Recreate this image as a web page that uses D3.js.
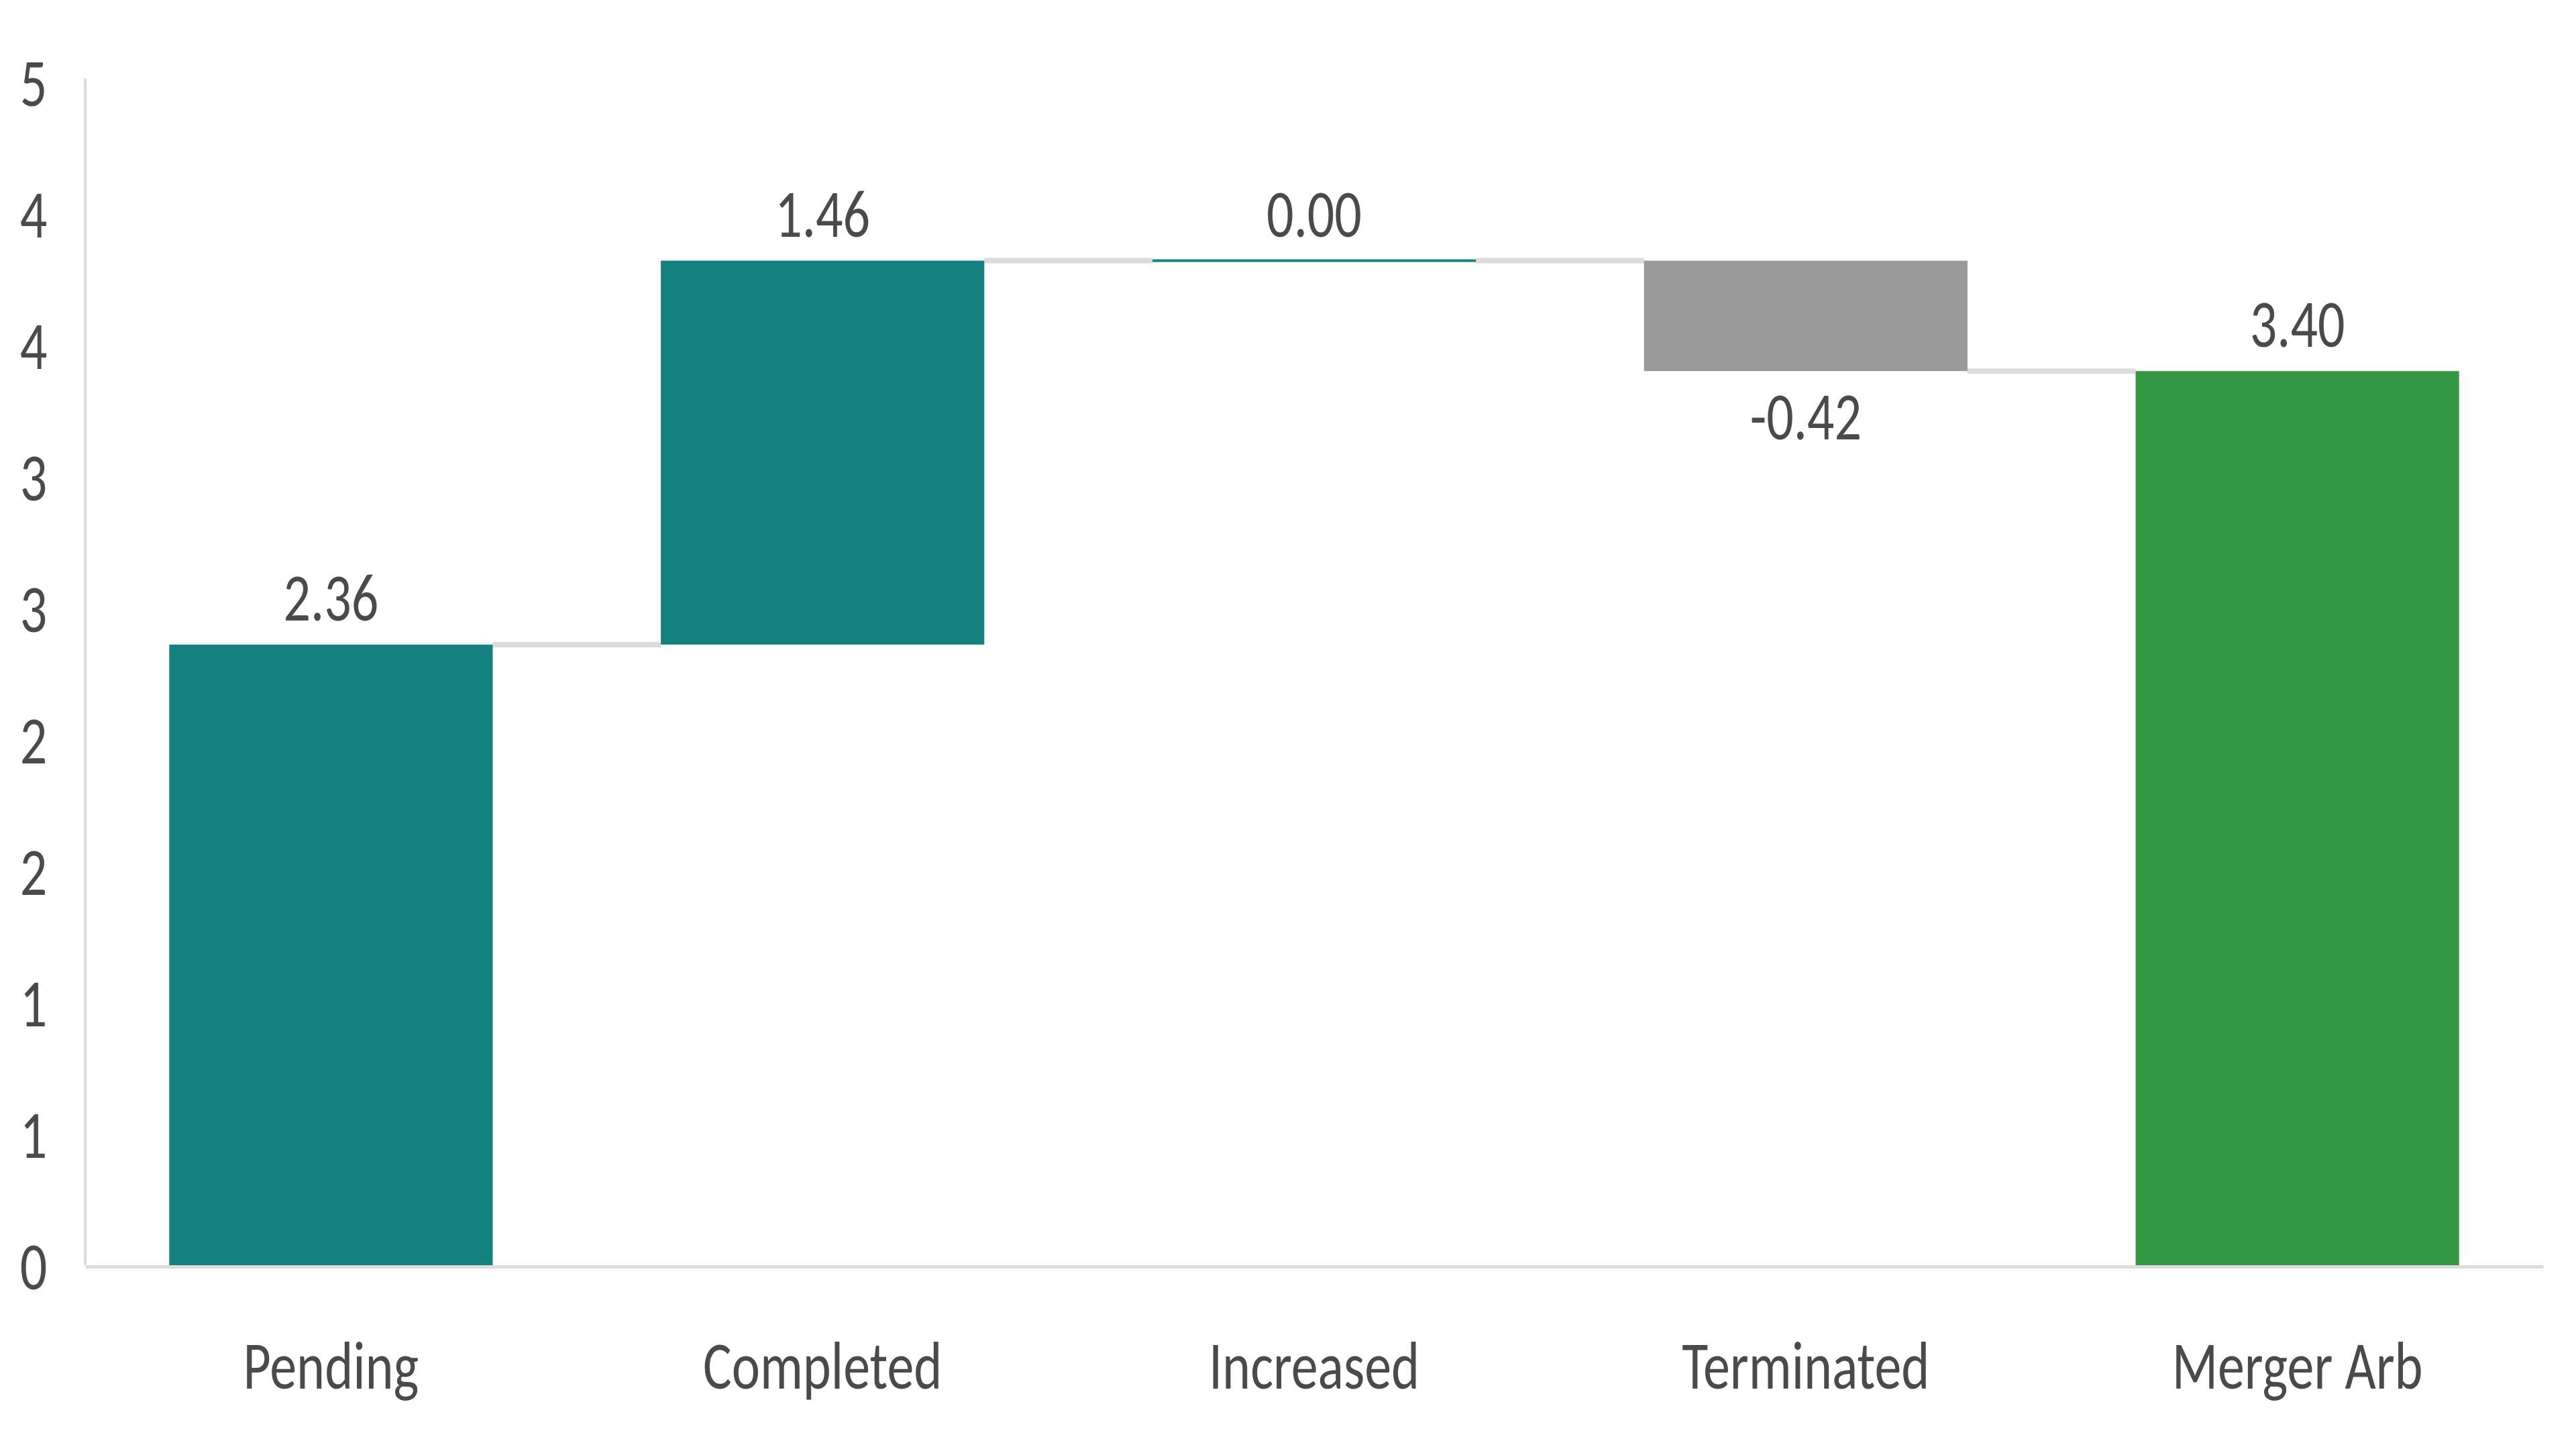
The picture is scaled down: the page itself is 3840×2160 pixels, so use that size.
<!DOCTYPE html>
<html>
<head>
<meta charset="utf-8">
<script src="https://cdn.jsdelivr.net/npm/d3@7"></script>
<style>
  html, body { margin: 0; padding: 0; background: #ffffff; }
  svg { display: block; }
  text { font-family: Carlito, Lato, "Open Sans", sans-serif; fill: #4a4a4a; }
</style>
</head>
<body>
<script>
// ---- data ----
const categories = ["Pending", "Completed", "Increased", "Terminated", "Merger Arb"];
const values = [2.36, 1.46, 0.00, -0.42, 3.40];
const isTotal = [false, false, false, false, true];
const valueLabels = ["2.36", "1.46", "0.00", "-0.42", "3.40"];
const yTickValues = [0, 0.5, 1, 1.5, 2, 2.5, 3, 3.5, 4, 4.5];
const yTickLabels = ["0", "1", "1", "2", "2", "3", "3", "4", "4", "5"];

// ---- styles ----
const W = 3840, H = 2160;
const colorUp = "#15827f", colorDown = "#9a9a9a", colorTotal = "#339744";
const lineColor = "#dcdcdc";
const fontSize = 100, sx = 0.8;
const fontFam = "Carlito, Lato, 'Open Sans', sans-serif";

const svg = d3.select("body").append("svg").attr("width", W).attr("height", H);
svg.append("rect").attr("width", W).attr("height", H).attr("fill", "#fff");

const x = d3.scaleBand().domain(categories).range([127, 3791]).paddingInner(0.342).paddingOuter(0.171);
const y = d3.scaleLinear().domain([0, 4.5]).range([1886, 122]);

// waterfall positions
let run = 0;
const rows = categories.map((c, i) => {
  let s, e;
  if (isTotal[i]) { s = 0; e = values[i]; run = values[i]; }
  else { s = run; e = run + values[i]; run = e; }
  return { cat: c, v: values[i], s, e, total: isTotal[i], label: valueLabels[i] };
});

// connectors
const g = svg.append("g");
rows.slice(0, -1).forEach((r, i) => {
  const n = rows[i + 1];
  g.append("line")
    .attr("x1", x(r.cat) + x.bandwidth()).attr("x2", x(n.cat))
    .attr("y1", y(r.e)).attr("y2", y(r.e))
    .attr("stroke", lineColor).attr("stroke-width", 8);
});

// bars
g.selectAll("rect.bar").data(rows).enter().append("rect")
  .attr("class", "bar")
  .attr("x", d => x(d.cat))
  .attr("width", x.bandwidth())
  .attr("y", d => y(Math.max(d.s, d.e)) - (Math.abs(d.e - d.s) < 0.005 ? 2 : 0))
  .attr("height", d => Math.max(4, Math.abs(y(d.s) - y(d.e))))
  .attr("fill", d => d.total ? colorTotal : (d.v < 0 ? colorDown : colorUp));

// value labels
g.selectAll("text.val").data(rows).enter().append("text")
  .attr("class", "val")
  .attr("text-anchor", "middle")
  .attr("font-size", fontSize)
  .attr("transform", d => {
    const cx = x(d.cat) + x.bandwidth() / 2;
    const cy = d.v < 0 ? y(Math.min(d.s, d.e)) + 102 : y(Math.max(d.s, d.e)) - 36;
    return `translate(${cx},${cy}) scale(${sx},1)`;
  })
  .text(d => d.label);

// y axis
const yAxis = svg.append("g").attr("transform", "translate(127,0)")
  .call(d3.axisLeft(y).tickValues(yTickValues).tickFormat((d, i) => yTickLabels[i]).tickSize(0).tickSizeOuter(0));
yAxis.select(".domain").attr("stroke", lineColor).attr("stroke-width", 4).attr("d", `M0,${117}V${y(0)}`);
yAxis.selectAll(".tick text")
  .attr("x", null).attr("dy", null).attr("fill", "#4a4a4a")
  .attr("font-size", fontSize).attr("text-anchor", "middle")
  .attr("font-family", null).style("font-family", fontFam)
  .attr("transform", `translate(-77,35) scale(${sx},1)`);

// x axis
const xAxis = svg.append("g").attr("transform", `translate(0,${y(0) + 2})`)
  .call(d3.axisBottom(x).tickSize(0).tickSizeOuter(0));
xAxis.select(".domain").attr("stroke", lineColor).attr("stroke-width", 5);
xAxis.selectAll(".tick text")
  .attr("y", null).attr("dy", null).attr("fill", "#4a4a4a")
  .attr("font-size", fontSize).attr("font-family", null).style("font-family", fontFam)
  .attr("transform", `translate(0,182) scale(${sx},1)`);
</script>
</body>
</html>
